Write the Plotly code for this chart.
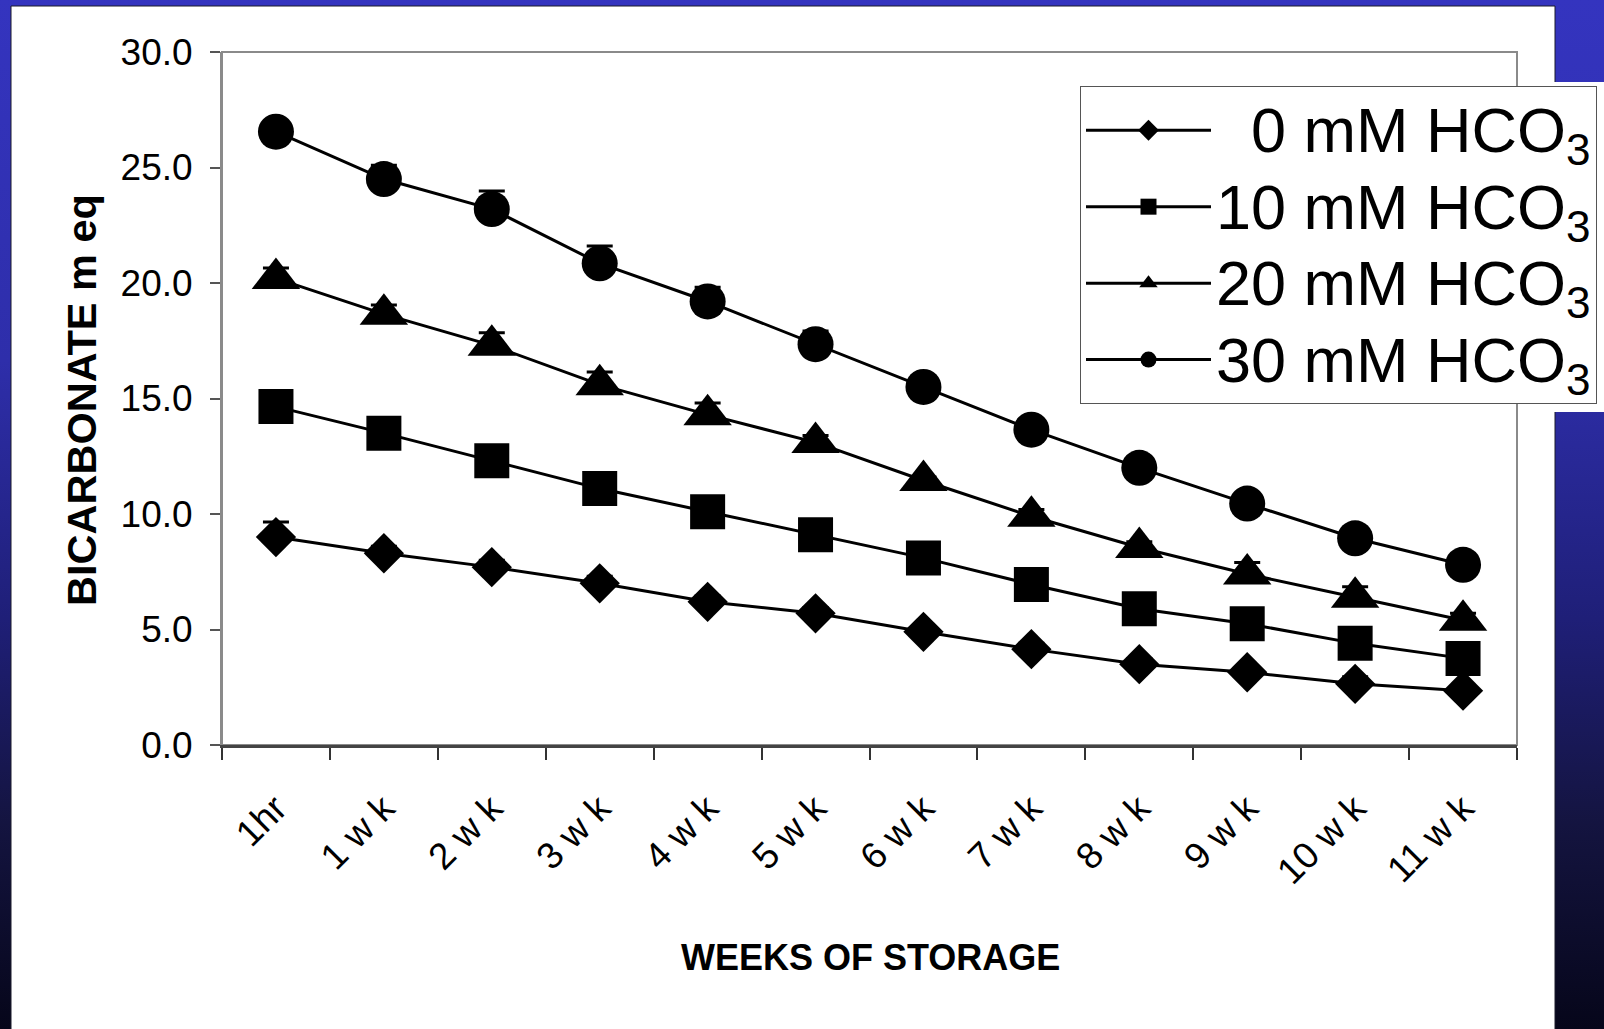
import base64
import plotly.graph_objects as go

# ---------------- data ----------------
categories = ["1hr", "1 w k", "2 w k", "3 w k", "4 w k", "5 w k",
              "6 w k", "7 w k", "8 w k", "9 w k", "10 w k", "11 w k"]

series_labels = ["&nbsp;&nbsp;0 mM HCO<sub>3</sub>", "10 mM HCO<sub>3</sub>",
                 "20 mM HCO<sub>3</sub>", "30 mM HCO<sub>3</sub>"]

hco3_0 = [9.0, 8.3, 7.7, 7.0, 6.2, 5.7, 4.9, 4.15, 3.5, 3.15, 2.65, 2.35]
hco3_10 = [14.65, 13.5, 12.3, 11.1, 10.1, 9.1, 8.1, 6.95, 5.9, 5.25, 4.4, 3.75]
hco3_20 = [20.2, 18.65, 17.3, 15.6, 14.3, 13.1, 11.45, 9.9, 8.55, 7.4, 6.4, 5.4]
hco3_30 = [26.55, 24.5, 23.2, 20.85, 19.2, 17.35, 15.5, 13.65, 12.0, 10.45, 8.95, 7.8]

err_0 = [0.65, 0.3, 0.3, 0.3, 0.25, 0.25, 0.2, 0.25, 0.25, 0.2, 0.3, 0.2]
err_10 = [0.4, 0.4, 0.4, 0.4, 0.35, 0.35, 0.3, 0.3, 0.3, 0.3, 0.3, 0.3]
err_20 = [0.45, 0.4, 0.55, 0.55, 0.5, 0.3, 0.15, 0.3, 0.25, 0.5, 0.45, 0.3]
err_30 = [0.3, 0.6, 0.78, 0.75, 0.62, 0.57, 0.4, 0.3, 0.3, 0.3, 0.3, 0.3]

y_ticks = [0, 5, 10, 15, 20, 25, 30]

# ---------------- geometry ----------------
W, H = 1604, 1029
L, T, R, B = 222, 52, 1517, 745
PW, PH = R - L, B - T


def px2x(px):
    return (px - L) / PW


def py2y(py):
    return 1 - (py - T) / PH


FONT = "Liberation Sans, Arial, sans-serif"

symbols = ["diamond", "square", "triangle-up", "circle"]
sizes = [31, 35, 42, 36]
values = [hco3_0, hco3_10, hco3_20, hco3_30]
errors = [err_0, err_10, err_20, err_30]

fig = go.Figure()
for label, vals, errs, sym, sz in zip(series_labels, values, errors, symbols, sizes):
    fig.add_trace(go.Scatter(
        x=categories, y=vals,
        name='<span style="font-size:63px">' + label + "</span>",
        mode="lines+markers",
        line=dict(color="black", width=3),
        marker=dict(symbol=sym, size=sz, color="black", line=dict(width=0)),
        error_y=dict(type="data", symmetric=False, array=errs,
                     arrayminus=[0] * len(errs), color="black",
                     thickness=3, width=13),
    ))

# background gradient (slide)
svg = (
    '<svg xmlns="http://www.w3.org/2000/svg" width="100" height="100" preserveAspectRatio="none">'
    '<defs><linearGradient id="g" x1="0" y1="0" x2="0" y2="1">'
    '<stop offset="0" stop-color="#3434bf"/>'
    '<stop offset="0.35" stop-color="#2e2eaa"/>'
    '<stop offset="0.6" stop-color="#1f1f78"/>'
    '<stop offset="0.8" stop-color="#141440"/>'
    '<stop offset="1" stop-color="#06061a"/>'
    '</linearGradient></defs>'
    '<rect x="0" y="0" width="100" height="100" fill="url(#g)"/></svg>'
)
src = "data:image/svg+xml;base64," + base64.b64encode(svg.encode()).decode()

shapes = [
    # white slide panel
    dict(type="rect", xref="paper", yref="paper", layer="below",
         x0=px2x(11), x1=px2x(1555), y0=py2y(1040), y1=py2y(6),
         fillcolor="white", line=dict(color="#1a1a2a", width=1)),
    # white region behind legend overflow
    dict(type="rect", xref="paper", yref="paper", layer="below",
         x0=px2x(1550), x1=px2x(1610), y0=py2y(412), y1=py2y(82),
         fillcolor="white", line=dict(width=0)),
    # plot-area border (gray)
    dict(type="rect", xref="paper", yref="paper", layer="below",
         x0=0, x1=1, y0=0, y1=1, fillcolor="rgba(0,0,0,0)",
         line=dict(color="#8a8a8a", width=2)),
]

annotations = [
    dict(text="<b>WEEKS OF STORAGE</b>", xref="paper", yref="paper",
         x=px2x(870), y=py2y(958), xanchor="center", yanchor="middle",
         showarrow=False,
         font=dict(family=FONT, size=36, color="black")),
    dict(text="<b>BICARBONATE m eq</b>", xref="paper", yref="paper",
         x=px2x(81), y=py2y(400), xanchor="center", yanchor="middle",
         textangle=-90, showarrow=False,
         font=dict(family=FONT, size=41.5, color="black")),
]

fig.update_layout(
    width=W, height=H,
    margin=dict(l=L, r=W - R, t=T, b=H - B, autoexpand=False),
    paper_bgcolor="#06061a",
    plot_bgcolor="rgba(0,0,0,0)",
    font=dict(family=FONT, color="black"),
    showlegend=True,
    legend=dict(
        xref="container", yref="container",
        x=1080 / W, y=1 - 86 / H, xanchor="left", yanchor="top",
        bgcolor="white", bordercolor="#555555", borderwidth=1,
        font=dict(family=FONT, size=56.5, color="black"),
        itemwidth=125, traceorder="normal",
    ),
    images=[dict(source=src, xref="paper", yref="paper",
                 x=px2x(0), y=py2y(0), sizex=W / PW, sizey=H / PH,
                 sizing="stretch", layer="below", xanchor="left", yanchor="top")],
    shapes=shapes,
    annotations=annotations,
    xaxis=dict(
        type="category", range=[-0.5, 11.5], tickson="boundaries",
        ticks="outside", ticklen=12, tickwidth=1.5, tickcolor="#333333",
        showline=True, linecolor="#444444", linewidth=2.5,
        showgrid=False, zeroline=False, tickangle=-45,
        tickfont=dict(family=FONT, size=37, color="black"),
        ticklabelstandoff=24,
    ),
    yaxis=dict(
        range=[0, 30], tickvals=y_ticks, tickformat=".1f",
        ticks="outside", ticklen=10, tickwidth=1.5, tickcolor="#555555",
        showline=True, linecolor="#8a8a8a", linewidth=2,
        showgrid=False, zeroline=False,
        tickfont=dict(family=FONT, size=37, color="black"),
        ticklabelstandoff=10,
    ),
)

fig.write_html("out.html")
